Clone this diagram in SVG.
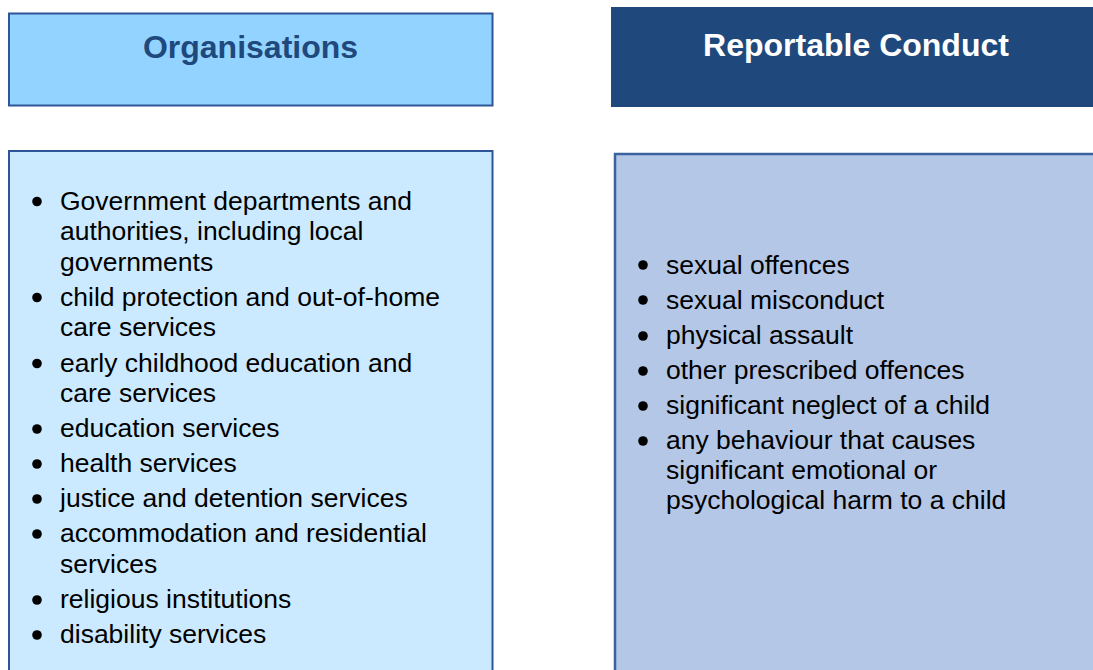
<svg xmlns="http://www.w3.org/2000/svg" width="1093" height="670" viewBox="0 0 1093 670">
<style>
.t{font-family:"Liberation Sans",Arial,sans-serif;font-size:26.5px;fill:#000}
.h{font-family:"Liberation Sans",Arial,sans-serif;font-size:32px;font-weight:bold;text-anchor:middle}
</style>
<rect width="1093" height="670" fill="#fff"/>
<g id="org-header">
<rect x="9" y="13.5" width="483.5" height="92" fill="#93d3ff" stroke="#2f5597" stroke-width="2"/>
<text class="h" x="250.5" y="58" fill="#1f497d">Organisations</text>
</g>
<g id="conduct-header">
<rect x="611" y="7" width="482" height="100" fill="#1f497d"/>
<text class="h" x="856" y="56" fill="#fff">Reportable Conduct</text>
</g>
<g id="org-list">
<rect x="9" y="151" width="483.5" height="530" fill="#cceaff" stroke="#2f5597" stroke-width="2"/>
<g class="t">
<circle cx="37" cy="201.5" r="4.8"/>
<text x="60" y="209.5">Government departments and</text>
<text x="60" y="240">authorities, including local</text>
<text x="60" y="270.5">governments</text>
<circle cx="37" cy="297.5" r="4.8"/>
<text x="60" y="305.5">child protection and out-of-home</text>
<text x="60" y="336">care services</text>
<circle cx="37" cy="363.5" r="4.8"/>
<text x="60" y="371.5">early childhood education and</text>
<text x="60" y="402">care services</text>
<circle cx="37" cy="429" r="4.8"/>
<text x="60" y="437">education services</text>
<circle cx="37" cy="464" r="4.8"/>
<text x="60" y="472">health services</text>
<circle cx="37" cy="499" r="4.8"/>
<text x="60" y="507">justice and detention services</text>
<circle cx="37" cy="534" r="4.8"/>
<text x="60" y="542">accommodation and residential</text>
<text x="60" y="573">services</text>
<circle cx="37" cy="600" r="4.8"/>
<text x="60" y="608">religious institutions</text>
<circle cx="37" cy="635" r="4.8"/>
<text x="60" y="643">disability services</text>
</g>
</g>
<g id="conduct-list">
<rect x="615" y="154" width="490" height="530" fill="#b4c7e7" stroke="#3a62a0" stroke-width="2.5"/>
<g class="t">
<circle cx="643" cy="265" r="4.8"/>
<text x="666" y="273.5">sexual offences</text>
<circle cx="643" cy="300" r="4.8"/>
<text x="666" y="308.5">sexual misconduct</text>
<circle cx="643" cy="336" r="4.8"/>
<text x="666" y="344">physical assault</text>
<circle cx="643" cy="371" r="4.8"/>
<text x="666" y="379">other prescribed offences</text>
<circle cx="643" cy="406" r="4.8"/>
<text x="666" y="414">significant neglect of a child</text>
<circle cx="643" cy="441" r="4.8"/>
<text x="666" y="449">any behaviour that causes</text>
<text x="666" y="479">significant emotional or</text>
<text x="666" y="509">psychological harm to a child</text>
</g>
</g>
</svg>
